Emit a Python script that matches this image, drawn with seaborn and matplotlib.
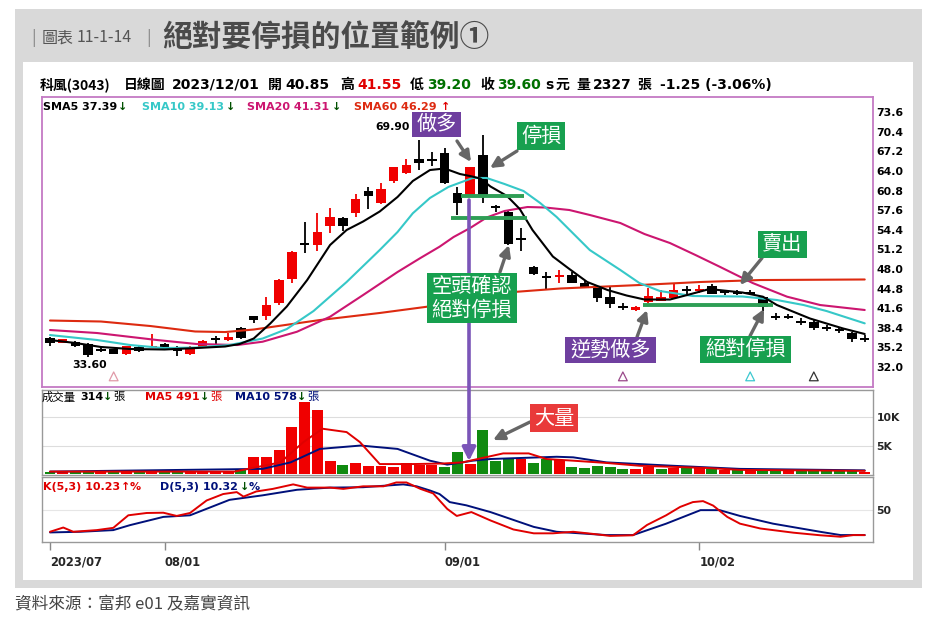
import numpy as np
import matplotlib
matplotlib.use("Agg")
import matplotlib.pyplot as plt
import seaborn as sns
from matplotlib.patches import Rectangle
from matplotlib.transforms import blended_transform_factory

# ---------------- data ----------------
opens = [36.73, 35.92, 36.08, 35.76, 34.90, 34.90, 34.12, 35.30, 35.20, 35.75,
         35.27, 34.20, 35.31, 36.55, 36.40, 38.37, 40.33, 40.33, 42.40, 46.30,
         52.10, 51.90, 55.00, 56.40, 57.10, 60.70, 58.73, 62.42, 63.62, 66.00,
         65.85, 66.90, 60.45, 59.90, 66.60, 58.20, 57.35, 52.90, 48.40, 46.80,
         46.80, 47.00, 45.65, 44.85, 43.48, 41.80, 41.30, 42.66, 42.82, 43.22,
         44.60, 44.50, 45.30, 44.35, 44.20, 44.15, 43.48, 40.25, 40.25, 39.45,
         39.40, 38.35, 38.00, 37.60, 36.70]
highs = [36.85, 36.65, 36.30, 36.00, 35.30, 35.00, 35.50, 35.40, 37.40, 35.90,
         35.40, 35.50, 36.40, 37.05, 37.50, 38.60, 40.40, 43.38, 46.30, 50.90,
         55.72, 57.10, 57.90, 56.50, 60.20, 61.35, 62.00, 64.70, 65.90, 69.06,
         67.15, 67.70, 61.40, 64.70, 69.88, 58.45, 57.70, 54.65, 48.45, 47.55,
         47.80, 47.55, 46.20, 44.90, 45.20, 42.50, 41.95, 44.90, 44.57, 45.65,
         45.20, 45.40, 45.50, 44.50, 44.65, 44.60, 43.60, 40.80, 40.60, 40.00,
         39.70, 38.80, 38.60, 37.70, 37.30]
lows = [35.45, 35.85, 35.30, 33.60, 34.40, 34.10, 34.00, 34.50, 35.10, 35.00,
        33.85, 34.00, 35.20, 35.60, 36.30, 36.60, 39.20, 39.67, 42.10, 45.65,
        50.56, 51.00, 53.93, 54.25, 56.55, 57.80, 58.60, 62.00, 63.50, 64.16,
        64.80, 61.90, 56.80, 59.80, 58.73, 57.35, 52.00, 51.00, 47.10, 44.70,
        45.65, 45.70, 45.00, 42.65, 41.60, 41.30, 41.20, 42.50, 42.70, 43.10,
        44.00, 44.10, 43.90, 43.80, 43.80, 43.80, 41.20, 39.70, 39.90, 38.90,
        38.00, 37.90, 37.60, 36.10, 36.10]
closes = [35.92, 36.57, 35.43, 33.96, 34.80, 34.20, 35.43, 34.65, 35.50, 35.10,
          34.60, 35.30, 36.29, 36.45, 36.85, 36.73, 39.70, 42.12, 46.20, 50.82,
          52.00, 54.09, 56.45, 55.00, 59.40, 59.95, 61.06, 64.60, 64.98, 65.25,
          65.75, 62.00, 58.73, 64.60, 59.80, 57.95, 52.10, 52.80, 47.20, 46.70,
          46.90, 45.75, 45.10, 43.22, 42.30, 41.70, 41.85, 43.59, 43.38, 44.57,
          44.50, 44.60, 44.00, 44.25, 44.10, 44.10, 41.85, 40.15, 40.20, 39.35,
          38.35, 38.28, 37.95, 36.50, 36.60]
volume_k = [0.30, 0.25, 0.30, 0.35, 0.25, 0.30, 0.30, 0.25, 0.30, 0.25,
            0.30, 0.25, 0.30, 0.35, 0.30, 0.70, 2.9, 3.0, 4.2, 8.3,
            12.7, 11.4, 2.3, 1.6, 1.9, 1.4, 1.3, 1.1, 1.9, 1.55,
            1.55, 1.25, 3.8, 1.7, 7.7, 2.3, 2.8, 2.6, 1.85, 2.6,
            2.4, 1.25, 0.95, 1.4, 1.25, 0.85, 0.85, 1.25, 0.85, 1.0,
            1.0, 1.0, 0.85, 0.6, 0.7, 0.6, 0.6, 0.5, 0.45, 0.5,
            0.5, 0.45, 0.4, 0.45, 0.31]

sma5_idx = [0, 2, 4, 6.3, 9, 11.5, 13.75, 14.9, 16, 17.3, 18.6, 20.2, 22, 23.3, 24.6,
            25.9, 27.3, 28.5, 29.85, 31, 32.2, 33, 33.8, 34.6, 35.9, 36.9, 37.9, 39.5,
            40.8, 42.2, 43.8, 45.3, 46.7, 48.7, 50.5, 51.8, 54.4, 56, 57.1, 59.7, 62.3, 64]
sma5 = [36.41, 35.92, 35.27, 34.94, 34.86, 35.10, 35.35, 35.76, 36.65, 39.10, 41.88,
        46.20, 51.92, 54.37, 55.76, 57.39, 59.76, 62.37, 64.16, 64.41, 63.51, 63.18,
        62.78, 61.47, 59.92, 57.80, 54.37, 50.04, 48.00, 45.88, 44.57, 43.67, 43.02,
        43.02, 44.00, 44.73, 44.16, 43.48, 42.12, 39.92, 38.29, 37.39]
sma10_idx = [0, 3.7, 6.3, 8.9, 11.5, 14.1, 16.7, 18.6, 20.7, 23.3, 25.9, 27.3, 28.5,
             29.85, 31.3, 33.2, 34.3, 35.7, 37.2, 38.5, 39.8, 42.4, 44.8, 46.3, 47.9,
             50.5, 54.4, 57.1, 59.2, 61, 64]
sma10 = [37.22, 36.41, 35.59, 35.10, 35.18, 35.59, 36.65, 38.20, 41.14, 45.88, 51.10,
         54.04, 57.10, 59.60, 61.40, 62.86, 62.86, 61.88, 60.73, 58.78, 56.49, 51.10,
         47.84, 45.71, 44.41, 43.59, 43.51, 42.94, 42.12, 41.14, 39.13]
sma20_idx = [0, 3.7, 8.4, 11.5, 14.7, 16.7, 19.4, 22, 24.6, 27.3, 29.1, 30.6, 31.7,
             33, 34.3, 35.7, 37.5, 38.9, 40.8, 42.4, 44.8, 46.7, 48.7, 50.7, 52.6,
             55.2, 57.9, 60.5, 64]
sma20 = [38.04, 37.55, 36.41, 35.76, 35.59, 36.13, 37.76, 40.21, 43.76, 47.51, 49.80,
         51.64, 53.22, 54.69, 56.41, 57.47, 58.12, 58.04, 57.63, 56.82, 55.51, 53.71,
         52.24, 50.29, 48.38, 45.71, 43.48, 42.12, 41.31]
sma60_idx = [0, 4, 7.9, 11.4, 13.75, 16, 21.2, 25.9, 29.6, 33, 36.7, 40.1, 46.35,
             51.1, 55.8, 64]
sma60 = [39.59, 39.43, 38.69, 37.80, 37.71, 38.12, 39.67, 40.82, 41.84, 43.10, 44.29,
         44.82, 45.39, 45.88, 46.20, 46.29]

vma5_idx = [0, 14.5, 18.1, 19.9, 21.4, 23.3, 24.35, 25.9, 28.5, 30.9, 32.4, 34.4,
            35.6, 37.6, 39.0, 41.1, 43.7, 46.3, 51.6, 54.2, 64]
vma5 = [0.36, 0.36, 2.0, 5.6, 8.0, 7.4, 5.6, 1.7, 1.7, 1.8, 2.0, 3.0, 3.6, 3.6, 2.6,
        2.3, 1.9, 1.4, 1.0, 0.66, 0.49]
vma10_idx = [0, 16.7, 18.9, 21.2, 24.4, 27.3, 29.85, 31.2, 32.4, 33.2, 34.6, 39.8,
             41.1, 43.7, 48.9, 54.2, 64]
vma10 = [0.36, 0.84, 2.0, 4.4, 5.0, 4.4, 2.3, 1.6, 2.0, 2.3, 2.6, 3.0, 2.9, 2.0, 1.4,
         0.84, 0.58]

k_idx = [0, 1.04, 1.83, 3.67, 4.97, 6.15, 7.6, 8.9, 9.95, 11, 12.3, 13.6, 14.67, 15.2,
         16.2, 17.5, 19.1, 20.2, 22, 23.04, 24.6, 26.2, 27.2, 28, 29.1, 30.1, 30.6,
         31.2, 31.95, 33.1, 34.6, 36.4, 38, 39.5, 41.1, 42.7, 44, 45.8, 46.9, 48.4,
         49.5, 50.5, 51.3, 52.1, 53.2, 54.2, 55.8, 58.4, 60.5, 62.1, 63.1, 64]
k_vals = [15.4, 22, 15.4, 18, 21.5, 41, 44.6, 45, 40, 44.6, 64, 74, 77, 70, 78, 82, 89,
          84, 84, 82, 86, 86, 92, 92, 82, 75, 64, 51, 40, 46, 33, 19, 13, 13, 15.4, 12,
          9, 10, 26, 41, 54, 61.5, 63, 56, 38.5, 28, 20.5, 14, 10, 7.7, 10.3, 10.23]
d_idx = [0, 2.36, 4.97, 6.28, 8.9, 11, 14.1, 16.7, 19.4, 22, 24.6, 27.75, 28.8, 29.85,
         30.6, 31.4, 32.7, 34.6, 38, 39.8, 43.7, 45.8, 48.4, 51.1, 52.6, 54.2, 56.8,
         60.5, 62.1, 64]
d_vals = [14.4, 15.4, 18, 25.7, 38.5, 41, 65, 72, 80.6, 84, 84.6, 89, 86, 79.5, 74, 61.5,
          56.5, 46, 23, 15.4, 10.3, 10.3, 28, 49, 49, 40, 28, 15.4, 10.3, 10.32]

price_ticks = [73.6, 70.4, 67.2, 64.0, 60.8, 57.6, 54.4, 51.2, 48.0, 44.8, 41.6, 38.4, 35.2, 32.0]
vol_ticks = [10, 5]
vol_tick_labels = ["10K", "5K"]
kd_ticks = [50]
date_tick_idx = [0, 9, 31, 51]
date_tick_labels = ["2023/07", "08/01", "09/01", "10/02"]
signal_idx = [5, 45, 55, 60]
signal_colors = ["#e09aa8", "#9a4a8a", "#3cc8d0", "#333333"]
support_levels = [59.85, 56.30, 42.12]
support_from = [32.3, 31.5, 46.6]
support_to = [37.2, 37.5, 56.8]

# ---------------- styling ----------------
sns.set_theme(style="white")
NUM = ['DejaVu Sans', 'Noto Sans CJK TC']
CJK = ['Noto Sans CJK TC', 'DejaVu Sans']
plt.rcParams['font.family'] = NUM
plt.rcParams['axes.unicode_minus'] = False

W, H = 945, 625
fig = plt.figure(figsize=(W / 100, H / 100), dpi=100)
fig.patch.set_facecolor('white')


def frac(x0, y0, x1, y1):
    return [x0 / W, 1 - y1 / H, (x1 - x0) / W, (y1 - y0) / H]


bg = fig.add_axes([0, 0, 1, 1], zorder=0)
bg.set_xlim(0, W); bg.set_ylim(H, 0); bg.axis('off')
bg.add_patch(Rectangle((15, 9), 907, 579, facecolor='#d9d9d9', edgecolor='none'))
bg.add_patch(Rectangle((23, 62), 890, 518, facecolor='white', edgecolor='none'))

XL = (-0.63, 64.65)
idx = np.arange(len(opens))
o = np.array(opens); c = np.array(closes)
up = c >= o
ccol = np.where(up, '#f00000', '#000000')

# ---------------- price panel ----------------
ax = fig.add_axes(frac(42, 97, 873, 386.5), zorder=2)
ax.set_xlim(*XL); ax.set_ylim(28.82, 76.08)
ax.set_facecolor('white')
ax.vlines(idx, lows, highs, colors=ccol, lw=1.3, zorder=3)
bh = np.maximum(np.abs(c - o), 0.32)
ax.bar(idx, bh, bottom=(o + c) / 2 - bh / 2, width=0.74, color=ccol, linewidth=0, zorder=4)
for xs, ys, col in [(sma60_idx, sma60, '#dd2a10'), (sma20_idx, sma20, '#cc1670'),
                    (sma10_idx, sma10, '#36c8c8'), (sma5_idx, sma5, '#000000')]:
    sns.lineplot(x=np.array(xs), y=np.array(ys), ax=ax, color=col, linewidth=1.5,
                 estimator=None, sort=False, legend=False, zorder=5)
ax.hlines(support_levels, support_from, support_to, colors='#2e9e55', lw=2.8, zorder=6)
tr = blended_transform_factory(ax.transData, ax.transAxes)
ax.scatter(signal_idx, [0.035] * len(signal_idx), transform=tr, marker='^', s=40,
           facecolors='white', edgecolors=signal_colors, linewidths=0.9, zorder=6)
ax.yaxis.tick_right()
ax.set_yticks(price_ticks)
ax.set_yticklabels([f"{t:.1f}" for t in price_ticks], fontsize=7.8, fontweight='bold')
ax.tick_params(axis='y', length=0, pad=2.5, colors='black')
ax.set_xticks([])
ax.set_xlabel(''); ax.set_ylabel('')
for s in ax.spines.values():
    s.set_color('#c47ac4'); s.set_linewidth(1.3)

# ---------------- volume panel ----------------
vax = fig.add_axes(frac(42, 390, 873, 475), zorder=2)
vax.set_xlim(*XL); vax.set_ylim(-0.25, 14.9)
prev = np.concatenate([[c[0] + 1], c[:-1]])
vcol = np.where(c >= prev, '#f00000', '#108a10')
vax.axhline(5, color='#dddddd', lw=0.8, zorder=1)
vax.axhline(10, color='#dddddd', lw=0.8, zorder=1)
vax.bar(idx, volume_k, width=0.86, color=vcol, linewidth=0, zorder=2)
sns.lineplot(x=np.array(vma10_idx), y=np.array(vma10), ax=vax, color='#00107a', linewidth=1.4,
             estimator=None, sort=False, legend=False, zorder=3)
sns.lineplot(x=np.array(vma5_idx), y=np.array(vma5), ax=vax, color='#e00000', linewidth=1.4,
             estimator=None, sort=False, legend=False, zorder=3)
vax.yaxis.tick_right()
vax.set_yticks(vol_ticks)
vax.set_yticklabels(vol_tick_labels, fontsize=7.8, fontweight='bold')
vax.tick_params(axis='y', length=0, pad=2.5)
vax.set_xticks([])
vax.set_xlabel(''); vax.set_ylabel('')
for s in vax.spines.values():
    s.set_color('#999999'); s.set_linewidth(1.0)

# ---------------- KD panel ----------------
kax = fig.add_axes(frac(42, 477.3, 873, 541.7), zorder=2)
kax.set_xlim(*XL); kax.set_ylim(0, 100)
kax.axhline(50, color='#e6e6e6', lw=0.8, zorder=1)
sns.lineplot(x=np.array(d_idx), y=np.array(d_vals), ax=kax, color='#00107a', linewidth=1.4,
             estimator=None, sort=False, legend=False, zorder=3)
sns.lineplot(x=np.array(k_idx), y=np.array(k_vals), ax=kax, color='#e00000', linewidth=1.4,
             estimator=None, sort=False, legend=False, zorder=3)
kax.yaxis.tick_right()
kax.set_yticks(kd_ticks)
kax.set_yticklabels(["50"], fontsize=7.8, fontweight='bold')
kax.tick_params(axis='y', length=0, pad=2.5)
kax.set_xticks(date_tick_idx)
kax.set_xticklabels(date_tick_labels, fontsize=8.3, fontweight='bold', ha='left')
kax.tick_params(axis='x', length=6, width=1, color='#888888', direction='out', pad=4,
                bottom=True)
kax.set_xlabel(''); kax.set_ylabel('')
for s in kax.spines.values():
    s.set_color('#999999'); s.set_linewidth(1.0)

# ---------------- overlay: texts and callouts ----------------
ov = fig.add_axes([0, 0, 1, 1], zorder=10)
ov.set_xlim(0, W); ov.set_ylim(H, 0); ov.axis('off')
ov.patch.set_alpha(0)


def T(x, y, s, size, color='black', weight='normal', fam=NUM, ha='left', z=5):
    ov.text(x, y, s, fontsize=size, color=color, fontweight=weight, family=fam,
            ha=ha, va='center', zorder=z)


# title bar
T(31, 38, "|", 12, '#888888', fam=CJK)
T(42, 38, "圖表", 11.5, '#555555', fam=CJK)
T(77, 38, "11-1-14", 11.5, '#555555', fam=CJK)
T(146, 38, "|", 12, '#888888', fam=CJK)
T(162, 38, "絕對要停損的位置範例①", 21.4, '#4a4a4a', weight='bold', fam=CJK)
T(15, 605, "資料來源：富邦 e01 及嘉實資訊", 12, '#444444', fam=CJK)

# header line
hy = 85
T(40, hy, "科風(3043)", 10, weight='bold', fam=CJK)
T(124, hy, "日線圖", 10, weight='bold', fam=CJK)
T(172, hy, "2023/12/01", 10, weight='bold')
T(268, hy, "開", 10, weight='bold', fam=CJK)
T(285, hy, "40.85", 10, weight='bold')
T(340, hy, "高", 10, weight='bold', fam=CJK)
T(357, hy, "41.55", 10, '#e00000', weight='bold')
T(410, hy, "低", 10, weight='bold', fam=CJK)
T(427, hy, "39.20", 10, '#007000', weight='bold')
T(480, hy, "收", 10, weight='bold', fam=CJK)
T(497, hy, "39.60", 10, '#007000', weight='bold')
T(545, hy, "s", 10, weight='bold')
T(556, hy, "元", 10, weight='bold', fam=CJK)
T(576, hy, "量", 10, weight='bold', fam=CJK)
T(593, hy, "2327", 10, weight='bold')
T(637, hy, "張", 10, weight='bold', fam=CJK)
T(660, hy, "-1.25 (-3.06%)", 10, weight='bold')

# MA legend
ly = 107
T(43, ly, "SMA5 37.39", 8, '#000000', weight='bold')
T(118, ly, "↓", 8, '#005000', weight='bold')
T(142, ly, "SMA10 39.13", 8, '#36c8c8', weight='bold')
T(226, ly, "↓", 8, '#005000', weight='bold')
T(247, ly, "SMA20 41.31", 8, '#cc1670', weight='bold')
T(332, ly, "↓", 8, '#005000', weight='bold')
T(354, ly, "SMA60 46.29", 8, '#dd2a10', weight='bold')
T(441, ly, "↑", 8, '#e00000', weight='bold')

T(72, 365, "33.60", 7.8, weight='bold')
T(410, 127, "69.90", 7.8, weight='bold', ha='right', z=3)

# volume legend
vy = 397
T(42, vy, "成交量", 8.2, fam=CJK)
T(80, vy, "314", 8, weight='bold')
T(103, vy, "↓", 8, '#005000', weight='bold')
T(113, vy, "張", 8.2, fam=CJK)
T(145, vy, "MA5 491", 8, '#e00000', weight='bold')
T(200, vy, "↓", 8, '#005000', weight='bold')
T(210, vy, "張", 8.2, '#e00000', fam=CJK)
T(235, vy, "MA10 578", 8, '#00107a', weight='bold')
T(297, vy, "↓", 8, '#005000', weight='bold')
T(307, vy, "張", 8.2, '#00107a', fam=CJK)

# KD legend
ky = 487
T(43, ky, "K(5,3) 10.23", 8, '#e00000', weight='bold')
T(121, ky, "↑", 8, '#e00000', weight='bold')
T(130, ky, "%", 8, '#e00000', weight='bold')
T(160, ky, "D(5,3) 10.32", 8, '#00107a', weight='bold')
T(240, ky, "↓", 8, '#005000', weight='bold')
T(249, ky, "%", 8, '#00107a', weight='bold')

PURPLE = '#6f3f9f'
GREEN = '#17a04f'
RED = '#e93a3a'
ARROW = '#666666'


def box(x0, y0, x1, y1, color, text, size=14.5):
    ov.add_patch(Rectangle((x0, y0), x1 - x0, y1 - y0, facecolor=color, edgecolor='none', zorder=8))
    ov.text((x0 + x1) / 2, (y0 + y1) / 2, text, fontsize=size, color='white', family=CJK,
            ha='center', va='center', linespacing=1.2, zorder=9)


def arrow(tail, tip, color=ARROW, lw=2.4, ms=16):
    ov.annotate('', xy=tip, xytext=tail,
                arrowprops=dict(arrowstyle='-|>', color=color, lw=lw, mutation_scale=ms,
                                shrinkA=0, shrinkB=0), zorder=7)


# purple vertical arrow from the long entry into the volume panel
arrow((469, 200), (469, 461), color='#7b55b8', lw=2.6, ms=20)

box(412, 112, 461, 137, PURPLE, "做多")
arrow((457, 141), (471, 162))
box(517, 122, 565, 150, GREEN, "停損")
arrow((517, 151), (490, 168))
box(427, 273, 517, 323, GREEN, "空頭確認\n絕對停損")
arrow((500, 272), (509, 245))
box(565, 337, 656, 363, PURPLE, "逆勢做多")
arrow((637, 337), (647, 310))
box(700, 336, 791, 363, GREEN, "絕對停損")
arrow((750, 336), (764, 309))
box(758, 231, 807, 258, GREEN, "賣出")
arrow((762, 258), (740, 285))
box(530, 404, 578, 432, RED, "大量")
arrow((530, 422), (493, 440))

fig.savefig("out.png", dpi=100)
